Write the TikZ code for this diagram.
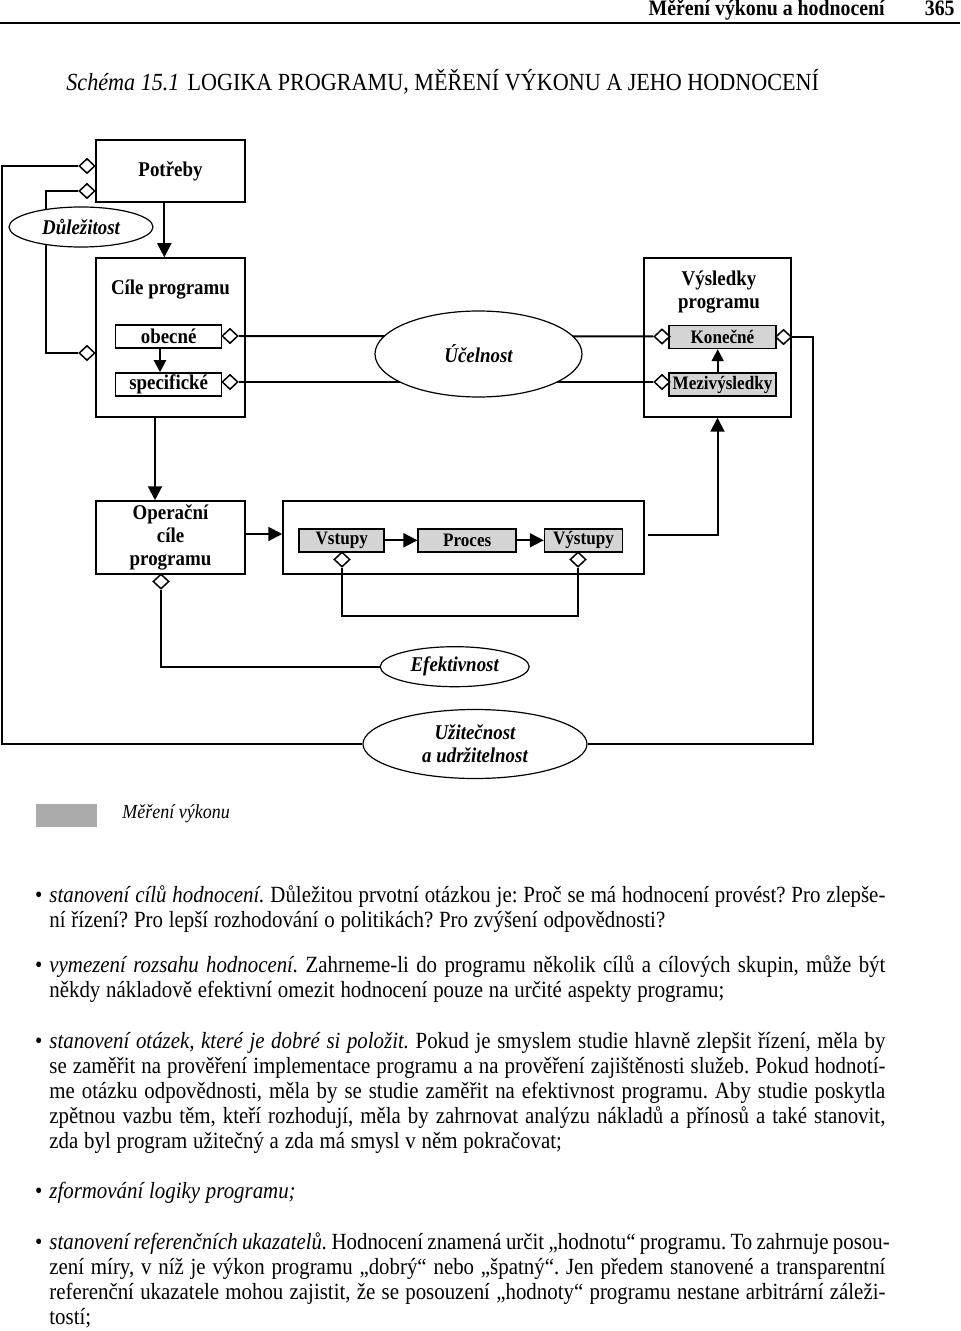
\documentclass[tikz,border=0pt]{standalone}
\usepackage{fontspec}
\setmainfont{Liberation Serif}[FakeStretch=0.9]
\usetikzlibrary{arrows.meta,shapes.geometric,backgrounds}
\definecolor{boxgray}{gray}{0.83}
\definecolor{keygray}{gray}{0.67}
\frenchspacing
\newcommand{\boxfont}{\fontsize{10.5}{11.7}\selectfont\bfseries}
\newcommand{\bull}{\leavevmode\llap{\textbullet\hspace{3.5pt}}}
\newcommand{\justpar}[1]{\parbox[t]{418pt}{\spaceskip=.25em plus .2em minus .12em\rightskip=0pt minus 4pt\relax\bull #1}}
\tikzset{
  box/.style={draw, line width=0.75pt, inner sep=0pt, font=\boxfont},
  wbox/.style={box, fill=white, minimum height=11.5pt},
  gbox/.style={box, fill=boxgray, minimum height=11.5pt, font=\fontsize{9.5}{11}\selectfont\bfseries},
  oval/.style={draw, ellipse, line width=0.6pt, fill=white, inner sep=0pt, align=center, font=\fontsize{10.5}{11.7}\selectfont\bfseries\itshape},
  dia/.style={draw, diamond, line width=0.75pt, fill=white, inner sep=0pt, minimum width=8pt, minimum height=7.5pt},
  conn/.style={line width=1pt},
  arr/.style={conn, -{Triangle[length=7pt,width=7pt]}},
  sarr/.style={conn, -{Triangle[length=6pt,width=6pt]}},
  para/.style={anchor=base west, inner sep=0pt, font=\fontsize{11.6}{12.5}\selectfont}
}

\begin{document}
\begin{tikzpicture}[x=0.5pt, y=-0.5pt]
\useasboundingbox (0,0) rectangle (960,1331);

% page head and title
\node[anchor=base east, inner sep=0pt, font=\fontsize{11}{13}\selectfont\bfseries] (runhead) at (885,16) {Měření výkonu a hodnocení};
\node[anchor=base east, inner sep=0pt, font=\fontsize{11}{13}\selectfont\bfseries] (folio) at (955,16) {365};
\draw[line width=1pt] (0,23.5) -- (960,23.5);
\node[anchor=base west, inner sep=0pt, font=\fontsize{12.3}{14}\selectfont] (title) at (66,90.5) {\textit{Schéma 15.1}\hspace{4pt}LOGIKA PROGRAMU, MĚŘENÍ VÝKONU A JEHO HODNOCENÍ};

% boxes
\node[box, minimum width=74.5pt, minimum height=31pt] (potreby) at (170.5,171) {Potřeby};
\node[oval, minimum width=72pt, minimum height=20pt] (dulez) at (81,227) {Důležitost};
\node[box, minimum width=74.5pt, minimum height=79.5pt] (cile) at (170.5,337.5) {};
\node[anchor=base, font=\boxfont] (cilet) at (170.5,295) {Cíle programu};
\node[wbox, minimum width=53pt] (obecne) at (168.7,336.5) {obecné};
\node[wbox, minimum width=53pt] (specif) at (168.7,384.5) {specifické};
\node[oval, minimum width=103.5pt, minimum height=43pt] (ucel) at (478.5,354) {Účelnost};
\node[box, minimum width=73.5pt, minimum height=79.5pt] (vysl) at (717.5,337.5) {};
\node[align=center, font=\boxfont] (vyslt) at (719,292) {Výsledky\\programu};
\node[gbox, minimum width=53.5pt] (konec) at (722.5,337) {Konečné};
\node[gbox, minimum width=53.5pt] (mezi) at (722.5,384.5) {Mezivýsledky};
\node[box, minimum width=74.5pt, minimum height=36.5pt, align=center] (oper) at (170.5,537.5) {Operační\\cíle\\programu};
\node[box, minimum width=180.5pt, minimum height=36.5pt] (procbox) at (463.5,537.5) {};
\node[gbox, minimum width=42.5pt] (vstupy) at (341.7,540.3) {Vstupy};
\node[gbox, minimum width=49pt] (proces) at (467.2,540.3) {Proces};
\node[gbox, minimum width=39pt] (vystupy) at (583.5,540.3) {Výstupy};
\node[oval, minimum width=74.5pt, minimum height=20pt] (efekt) at (454.7,666.7) {Efektivnost};
\node[oval, minimum width=112pt, minimum height=34.5pt] (uzit) at (475,744) {Užitečnost\\a udržitelnost};

% diamonds
\node[dia] (dpot1) at (87,166) {};
\node[dia] (dpot2) at (87,191) {};
\node[dia] (dcil) at (87,353) {};
\node[dia] (dobec) at (230,336) {};
\node[dia] (dspec) at (230,382) {};
\node[dia] (dkon1) at (662,336.5) {};
\node[dia] (dmez) at (662,382) {};
\node[dia] (dkon2) at (783.5,337) {};
\node[dia] (doper) at (161,581.5) {};
\node[dia] (dvst) at (342,559.5) {};
\node[dia] (dvys) at (578,559.5) {};

\begin{scope}[on background layer]
\draw[conn] (dpot1.west) -- ++(-76,0) |- (uzit.west);
\draw[conn] (dpot2.west) -- ++(-32,0) |- (dcil.west);
\draw[conn] (dobec.east) -- (dkon1.west);
\draw[conn] (dspec.east) -- (dmez.west);
\draw[conn] (dkon2.east) -- ++(20.5,0) |- (uzit.east);
\draw[conn] (doper.south) |- (efekt.west);
\draw[conn] (dvst.south) -- ++(0,48) -| (dvys.south);
\end{scope}

\draw[arr] ([xshift=-3.1pt]potreby.south) -- ([xshift=-3.1pt]cile.north);
\draw[arr] ([xshift=-7.75pt]cile.south) -- ([xshift=-7.75pt]oper.north);
\draw[arr] ([yshift=1.75pt]oper.east) -- ([yshift=1.75pt]procbox.west);
\draw[arr] ([xshift=1.75pt,yshift=1.25pt]procbox.east) -| (vysl.south);
\draw[sarr] ([xshift=-4.35pt]obecne.south) -- ([xshift=-4.35pt]specif.north);
\draw[sarr] ([xshift=-2.4pt]mezi.north) -- ([xshift=-2.4pt]konec.south);
\draw[arr] (vstupy) -- (proces);
\draw[arr] (proces) -- (vystupy);

% legend
\node[fill=keygray, inner sep=0pt, minimum width=30.5pt, minimum height=11.5pt] (key) at (66.5,815.5) {};
\node[anchor=west, inner sep=0pt, font=\fontsize{10}{12}\selectfont\itshape] (keytext) at (122,814) {Měření výkonu};

% text
\node[para] (goals) at (49,902) {\justpar{\textit{stanovení cílů hodnocení.} Důležitou prvotní otázkou je: Proč se má hodnocení provést? Pro zlepše-\linebreak ní řízení? Pro lepší rozhodování o politikách? Pro zvýšení odpovědnosti?}};
\node[para] (scope) at (49,972) {\justpar{\textit{vymezení rozsahu hodnocení.} Zahrneme-li do programu několik cílů a cílových skupin, může být \linebreak někdy nákladově efektivní omezit hodnocení pouze na určité aspekty programu;}};
\node[para] (questions) at (49,1048) {\justpar{\textit{stanovení otázek, které je dobré si položit.} Pokud je smyslem studie hlavně zlepšit řízení, měla by \linebreak se zaměřit na prověření implementace programu a na prověření zajištěnosti služeb. Pokud hodnotí-\linebreak me otázku odpovědnosti, měla by se studie zaměřit na efektivnost programu. Aby studie poskytla \linebreak zpětnou vazbu těm, kteří rozhodují, měla by zahrnovat analýzu nákladů a přínosů a také stanovit, \linebreak zda byl program užitečný a zda má smysl v něm pokračovat;}};
\node[para] (logic) at (49,1198) {\justpar{\textit{zformování logiky programu;}}};
\node[para] (bench) at (49,1249) {\justpar{\textit{stanovení referenčních ukazatelů.} Hodnocení znamená určit „hodnotu“ programu. To zahrnuje posou-\linebreak zení míry, v níž je výkon programu „dobrý“ nebo „špatný“. Jen předem stanovené a transparentní \linebreak referenční ukazatele mohou zajistit, že se posouzení „hodnoty“ programu nestane arbitrární záleži-\linebreak tostí;}};
\end{tikzpicture}
\end{document}
